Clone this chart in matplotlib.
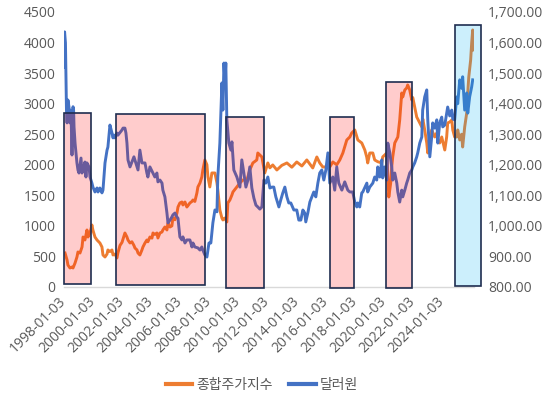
import matplotlib
matplotlib.use("Agg")
import matplotlib.pyplot as plt
from matplotlib.patches import Rectangle
from matplotlib.lines import Line2D

plt.rcParams['font.family'] = ['Open Sans', 'Noto Sans CJK KR', 'DejaVu Sans']

# ---- data (decimal years) ----
kospi_t = [1998.07, 1998.21, 1998.27, 1998.41, 1998.55, 1998.62, 1998.76, 1998.89, 1998.96, 1999.10,
           1999.24, 1999.31, 1999.44, 1999.58, 1999.65, 1999.79, 1999.92, 1999.99, 2000.13, 2000.27,
           2000.47, 2000.61, 2000.68, 2000.82, 2000.96, 2001.02, 2001.16, 2001.30, 2001.37, 2001.51,
           2001.64, 2001.71, 2001.85, 2001.99, 2002.19, 2002.33, 2002.40, 2002.54, 2002.67, 2002.81,
           2002.88, 2003.02, 2003.09, 2003.22, 2003.36, 2003.43, 2003.57, 2003.70, 2003.77, 2003.91,
           2004.05, 2004.12, 2004.25, 2004.39, 2004.46, 2004.60, 2004.74, 2004.80, 2004.94, 2005.08,
           2005.15, 2005.29, 2005.42, 2005.49, 2005.63, 2005.77, 2005.84, 2005.97, 2006.11, 2006.18,
           2006.32, 2006.45, 2006.52, 2006.66, 2006.80, 2006.87, 2007.00, 2007.14, 2007.21, 2007.35,
           2007.48, 2007.55, 2007.69, 2007.83, 2007.90, 2008.03, 2008.17, 2008.38, 2008.52, 2008.58,
           2008.72, 2008.86, 2008.93, 2009.07, 2009.20, 2009.27, 2009.41, 2009.55, 2009.62, 2009.89,
           2010.10, 2010.30, 2010.58, 2010.78, 2010.99, 2011.26, 2011.33, 2011.61, 2011.81, 2012.02,
           2012.16, 2012.36, 2012.64, 2012.98, 2013.33, 2013.67, 2014.01, 2014.36, 2014.70, 2015.11,
           2015.39, 2015.59, 2015.80, 2016.28, 2016.49, 2016.76, 2016.97, 2017.18, 2017.45, 2017.66,
           2017.79, 2018.00, 2018.21, 2018.48, 2018.69, 2018.82, 2018.89, 2019.03, 2019.24, 2019.37,
           2019.58, 2019.86, 2019.92, 2020.20, 2020.34, 2020.47, 2020.54, 2020.61, 2020.75, 2020.96,
           2021.09, 2021.23, 2021.30, 2021.44, 2021.57, 2021.64, 2021.78, 2021.92, 2021.99, 2022.12,
           2022.26, 2022.47, 2022.61, 2022.68, 2022.81, 2022.95, 2023.02, 2023.16, 2023.29, 2023.50,
           2023.64, 2023.71, 2023.84, 2023.98, 2024.19, 2024.32, 2024.39, 2024.53, 2024.67, 2024.74,
           2024.87, 2025.01, 2025.08, 2025.22, 2025.35, 2025.42, 2025.56, 2025.63, 2025.70, 2025.77,
           2025.84, 2025.97, 2026.04, 2026.11, 2026.18]
kospi_v = [556, 442, 360, 311, 327, 311, 393, 491, 573, 556,
           655, 818, 769, 933, 818, 884, 1015, 930, 818, 769,
           720, 655, 524, 491, 540, 606, 580, 606, 524, 540,
           475, 560, 680, 730, 884, 818, 769, 720, 740, 680,
           638, 606, 556, 524, 606, 655, 720, 769, 740, 818,
           800, 884, 860, 884, 802, 884, 900, 933, 982, 933,
           1047, 982, 1000, 1129, 1100, 1211, 1309, 1375, 1391, 1342,
           1391, 1309, 1330, 1375, 1400, 1424, 1400, 1538, 1637, 1702,
           1800, 1915, 2079, 2000, 1800, 1637, 1866, 1866, 1702, 1588,
           1260, 1129, 1097, 1129, 1064, 1375, 1424, 1506, 1555, 1637,
           1702, 1751, 1750, 1915, 2030, 2079, 2193, 2128, 1866, 2030,
           1950, 1997, 1915, 1990, 2030, 1960, 2046, 1980, 2079, 1948,
           2128, 2030, 1964, 1964, 2046, 2000, 2079, 2193, 2406, 2455,
           2520, 2570, 2406, 2357, 2242, 2128, 2030, 2193, 2193, 2079,
           2050, 2030, 2128, 2193, 1473, 1702, 1964, 2128, 2357, 2455,
           2733, 3175, 3110, 3224, 3257, 3306, 3224, 3061, 3100, 2946,
           2782, 2684, 2619, 2750, 2570, 2357, 2193, 2455, 2570, 2455,
           2520, 2406, 2357, 2455, 2242, 2455, 2684, 2700, 2733, 2570,
           2455, 2455, 2570, 2406, 2500, 2291, 2619, 2733, 2848, 3175,
           3437, 3715, 3993, 4206, 3879]

usd_t = [1998.00, 1998.04, 1998.10, 1998.17, 1998.21, 1998.27, 1998.34, 1998.41, 1998.48, 1998.55,
         1998.62, 1998.66, 1998.69, 1998.76, 1998.89, 1998.96, 1999.03, 1999.17, 1999.24, 1999.31,
         1999.44, 1999.51, 1999.58, 1999.72, 1999.79, 1999.92, 1999.99, 2000.13, 2000.27, 2000.34,
         2000.47, 2000.61, 2000.68, 2000.82, 2000.96, 2001.02, 2001.16, 2001.30, 2001.37, 2001.44,
         2001.51, 2001.64, 2001.71, 2001.99, 2002.06, 2002.19, 2002.26, 2002.33, 2002.40, 2002.54,
         2002.67, 2002.81, 2003.02, 2003.09, 2003.22, 2003.36, 2003.57, 2003.70, 2003.77, 2003.91,
         2004.12, 2004.25, 2004.39, 2004.46, 2004.60, 2004.74, 2004.80, 2004.94, 2005.08, 2005.15,
         2005.29, 2005.42, 2005.49, 2005.63, 2005.77, 2005.84, 2005.97, 2006.11, 2006.18, 2006.32,
         2006.45, 2006.66, 2006.80, 2006.87, 2007.00, 2007.21, 2007.35, 2007.48, 2007.55, 2007.69,
         2007.83, 2007.97, 2008.10, 2008.24, 2008.38, 2008.52, 2008.58, 2008.72, 2008.86, 2008.93,
         2009.00, 2009.07, 2009.13, 2009.20, 2009.34, 2009.48, 2009.55, 2009.68, 2009.89, 2010.10,
         2010.23, 2010.37, 2010.51, 2010.65, 2010.78, 2010.92, 2011.06, 2011.20, 2011.33, 2011.47,
         2011.61, 2011.75, 2011.88, 2012.02, 2012.16, 2012.30, 2012.43, 2012.57, 2012.78, 2012.91,
         2013.05, 2013.19, 2013.33, 2013.46, 2013.60, 2013.81, 2014.01, 2014.15, 2014.29, 2014.43,
         2014.56, 2014.63, 2014.77, 2014.91, 2015.05, 2015.18, 2015.32, 2015.46, 2015.59, 2015.73,
         2015.87, 2016.01, 2016.15, 2016.28, 2016.49, 2016.62, 2016.76, 2016.90, 2017.11, 2017.31,
         2017.52, 2017.66, 2017.86, 2018.00, 2018.14, 2018.21, 2018.34, 2018.48, 2018.55, 2018.83,
         2018.89, 2019.03, 2019.24, 2019.37, 2019.51, 2019.58, 2019.72, 2019.86, 2019.92, 2020.06,
         2020.20, 2020.27, 2020.41, 2020.54, 2020.61, 2020.75, 2020.89, 2020.96, 2021.09, 2021.23,
         2021.30, 2021.44, 2021.57, 2021.64, 2021.78, 2021.92, 2021.99, 2022.12, 2022.26, 2022.33,
         2022.47, 2022.61, 2022.67, 2022.81, 2022.95, 2023.02, 2023.16, 2023.29, 2023.36, 2023.50,
         2023.64, 2023.71, 2023.84, 2023.98, 2024.05, 2024.19, 2024.39, 2024.53, 2024.67, 2024.74,
         2024.87, 2025.01, 2025.08, 2025.22, 2025.36, 2025.42, 2025.56, 2025.70, 2025.77, 2025.90,
         2026.04, 2026.11]
usd_v = [1520, 1635, 1599, 1379, 1337, 1412, 1390, 1337, 1379, 1232,
         1390, 1379, 1324, 1271, 1206, 1183, 1173, 1222, 1173, 1183,
         1209, 1160, 1206, 1193, 1160, 1140, 1127, 1111, 1124, 1111,
         1124, 1108, 1117, 1206, 1248, 1258, 1330, 1304, 1288, 1297,
         1288, 1304, 1297, 1314, 1320, 1320, 1304, 1271, 1216, 1193,
         1209, 1226, 1193, 1183, 1248, 1206, 1206, 1173, 1160, 1193,
         1173, 1160, 1173, 1144, 1150, 1140, 1117, 1095, 1042, 1010,
         1019, 1029, 1036, 1042, 1029, 1025, 964, 954, 964, 944,
         954, 954, 931, 944, 931, 928, 921, 931, 921, 905,
         898, 944, 944, 1010, 1052, 1046, 1160, 1271, 1468, 1379,
         1533, 1471, 1533, 1347, 1271, 1248, 1275, 1183, 1160, 1127,
         1216, 1173, 1127, 1150, 1193, 1124, 1091, 1068, 1062, 1055,
         1062, 1150, 1140, 1160, 1124, 1127, 1127, 1095, 1062, 1085,
         1108, 1127, 1095, 1075, 1075, 1052, 1052, 1019, 1019, 1052,
         1042, 1013, 1042, 1078, 1095, 1111, 1095, 1140, 1173, 1183,
         1150, 1183, 1239, 1140, 1160, 1117, 1193, 1140, 1117, 1144,
         1117, 1111, 1111, 1078, 1062, 1075, 1062, 1108, 1111, 1140,
         1111, 1127, 1140, 1160, 1150, 1193, 1160, 1216, 1157, 1193,
         1150, 1271, 1239, 1193, 1150, 1173, 1140, 1111, 1078, 1117,
         1095, 1117, 1140, 1150, 1173, 1183, 1193, 1206, 1226, 1239,
         1271, 1291, 1379, 1422, 1445, 1347, 1226, 1291, 1337, 1320,
         1347, 1271, 1337, 1356, 1324, 1330, 1389, 1360, 1379, 1350,
         1347, 1422, 1400, 1478, 1450, 1488, 1379, 1435, 1369, 1422,
         1455, 1478]

tick_years = [1998, 2000, 2002, 2004, 2006, 2008, 2010, 2012, 2014, 2016, 2018, 2020, 2022, 2024]
tick_labels = [f"{y}-01-03" for y in tick_years]

# highlighted periods: (start, end, top on left axis, bottom on left axis, kind)
periods = [
    (1998.00, 1999.86, 2848, 49, 'red'),
    (2001.57, 2007.69, 2831, 33, 'red'),
    (2009.13, 2011.75, 2782, -16, 'red'),
    (2016.28, 2017.93, 2782, -16, 'red'),
    (2020.13, 2021.92, 3355, -16, 'red'),
    (2024.87, 2026.66, 4288, 16, 'blue'),
]

ORANGE = '#ED7D31'
BLUE = '#4472C4'
TXT = '#595959'

fig = plt.figure(figsize=(5.55, 3.98), dpi=100)
ax1 = fig.add_axes([64/555, 1-287/398, (474-64)/555, (287-12)/398])
ax2 = ax1.twinx()

ax1.plot(kospi_t, kospi_v, color=ORANGE, lw=2.1, solid_joinstyle='round')
ax2.plot(usd_t, usd_v, color=BLUE, lw=2.1, solid_joinstyle='round')

ax1.set_xlim(1998.0, 2026.2)
ax1.set_ylim(0, 4500)
ax2.set_ylim(800, 1700)
ax1.set_yticks(range(0, 4501, 500))
ax2.set_yticks(range(800, 1701, 100))
ax2.set_yticklabels([f"{v:,.2f}" for v in range(800, 1701, 100)])
ax1.set_xticks(tick_years)
ax1.set_xticklabels(tick_labels, rotation=45, ha='right', va='center', rotation_mode='anchor')

for ax in (ax1, ax2):
    for s in ax.spines.values():
        s.set_visible(False)
    ax.tick_params(length=0, labelsize=10, colors=TXT)
ax1.spines['bottom'].set_visible(True)
ax1.spines['bottom'].set_color('#D9D9D9')
ax1.spines['bottom'].set_linewidth(1.0)
ax1.tick_params(axis='x', pad=9)
ax1.tick_params(axis='y', pad=6)
ax2.tick_params(axis='y', pad=10)

for (x0, x1, top, bot, kind) in periods:
    fc = (1.0, 0.0, 0.0, 0.2) if kind == 'red' else (0.0, 0.69, 0.94, 0.2)
    r = Rectangle((x0, bot), x1 - x0, top - bot, transform=ax1.transData,
                  facecolor=fc, edgecolor='#1F2D50', lw=1.2, zorder=10, clip_on=False)
    ax2.add_patch(r)

handles = [Line2D([], [], color=ORANGE, lw=3), Line2D([], [], color=BLUE, lw=3)]
leg = fig.legend(handles, ['종합주가지수', '달러원'], loc='center', ncol=2,
                 bbox_to_anchor=(262/555, 1-385/398), frameon=False,
                 prop={'family': ['Noto Sans CJK KR'], 'size': 10},
                 handlelength=1.9, handletextpad=0.3, columnspacing=1.2)
for t in leg.get_texts():
    t.set_color(TXT)

fig.savefig('out.png', dpi=100)
